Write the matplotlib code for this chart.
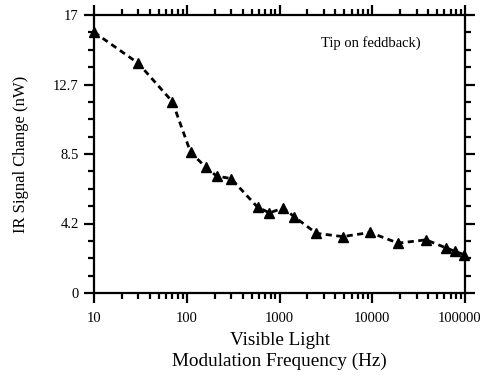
import matplotlib
matplotlib.use("Agg")
import matplotlib.pyplot as plt
from matplotlib.ticker import FixedLocator, NullFormatter
from matplotlib.transforms import ScaledTranslation

plt.rcParams['font.family'] = ['Liberation Serif', 'DejaVu Serif']

freq = [10, 30, 70, 110, 160, 210, 300, 580, 780, 1100, 1450, 2500, 4800, 9500, 19000, 38000, 63000, 78000, 97000]
signal = [15.95, 14.05, 11.7, 8.6, 7.7, 7.15, 7.0, 5.25, 4.9, 5.2, 4.65, 3.65, 3.45, 3.7, 3.05, 3.25, 2.75, 2.55, 2.35]

ytick_vals = [0, 4.25, 8.5, 12.75, 17]
ytick_labels = ["0", "4.2", "8.5", "12.7", "17"]
xtick_vals = [10, 100, 1000, 10000, 100000]
xtick_labels = ["10", "100", "1000", "10000", "100000"]

fig = plt.figure(figsize=(4.82, 3.75), dpi=100)
ax = fig.add_axes([94/482, 82/375, 371/482, 278/375])

ax.plot(freq, signal, color='black', lw=2, ls=(0, (2.2, 1.6)), marker='^',
        markersize=6.5, markerfacecolor='black', markeredgecolor='black', clip_on=False)

ax.set_xscale('log')
ax.set_xlim(10, 100000)
ax.set_ylim(0, 17)
ax.set_xticks(xtick_vals)
ax.set_xticklabels(xtick_labels)
ax.xaxis.set_minor_formatter(NullFormatter())
ax.set_yticks(ytick_vals)
ax.set_yticklabels(ytick_labels)
ax.yaxis.set_minor_locator(FixedLocator([i * 17 / 16 for i in range(17)]))

for s in ax.spines.values():
    s.set_linewidth(1.6)
ax.tick_params(which='both', direction='out', top=True, right=True, labeltop=False, labelright=False,
               width=1.6, labelsize=10.5)
ax.tick_params(which='major', length=7)
ax.tick_params(which='minor', length=4)
ax.tick_params(axis='x', pad=7)
ax.tick_params(axis='y', pad=4)
last = ax.get_xticklabels()[-1]
last.set_transform(last.get_transform() + ScaledTranslation(-5/100, 0, fig.dpi_scale_trans))

ax.set_xlabel("Visible Light\nModulation Frequency (Hz)", fontsize=13.8, labelpad=5, linespacing=1.25)
ax.set_ylabel("IR Signal Change (nW)", fontsize=12, labelpad=17)

ax.text(0.612, 0.9, "Tip on feddback)", transform=ax.transAxes, fontsize=10.5, ha='left', va='center')

fig.savefig("out.png", dpi=100)
